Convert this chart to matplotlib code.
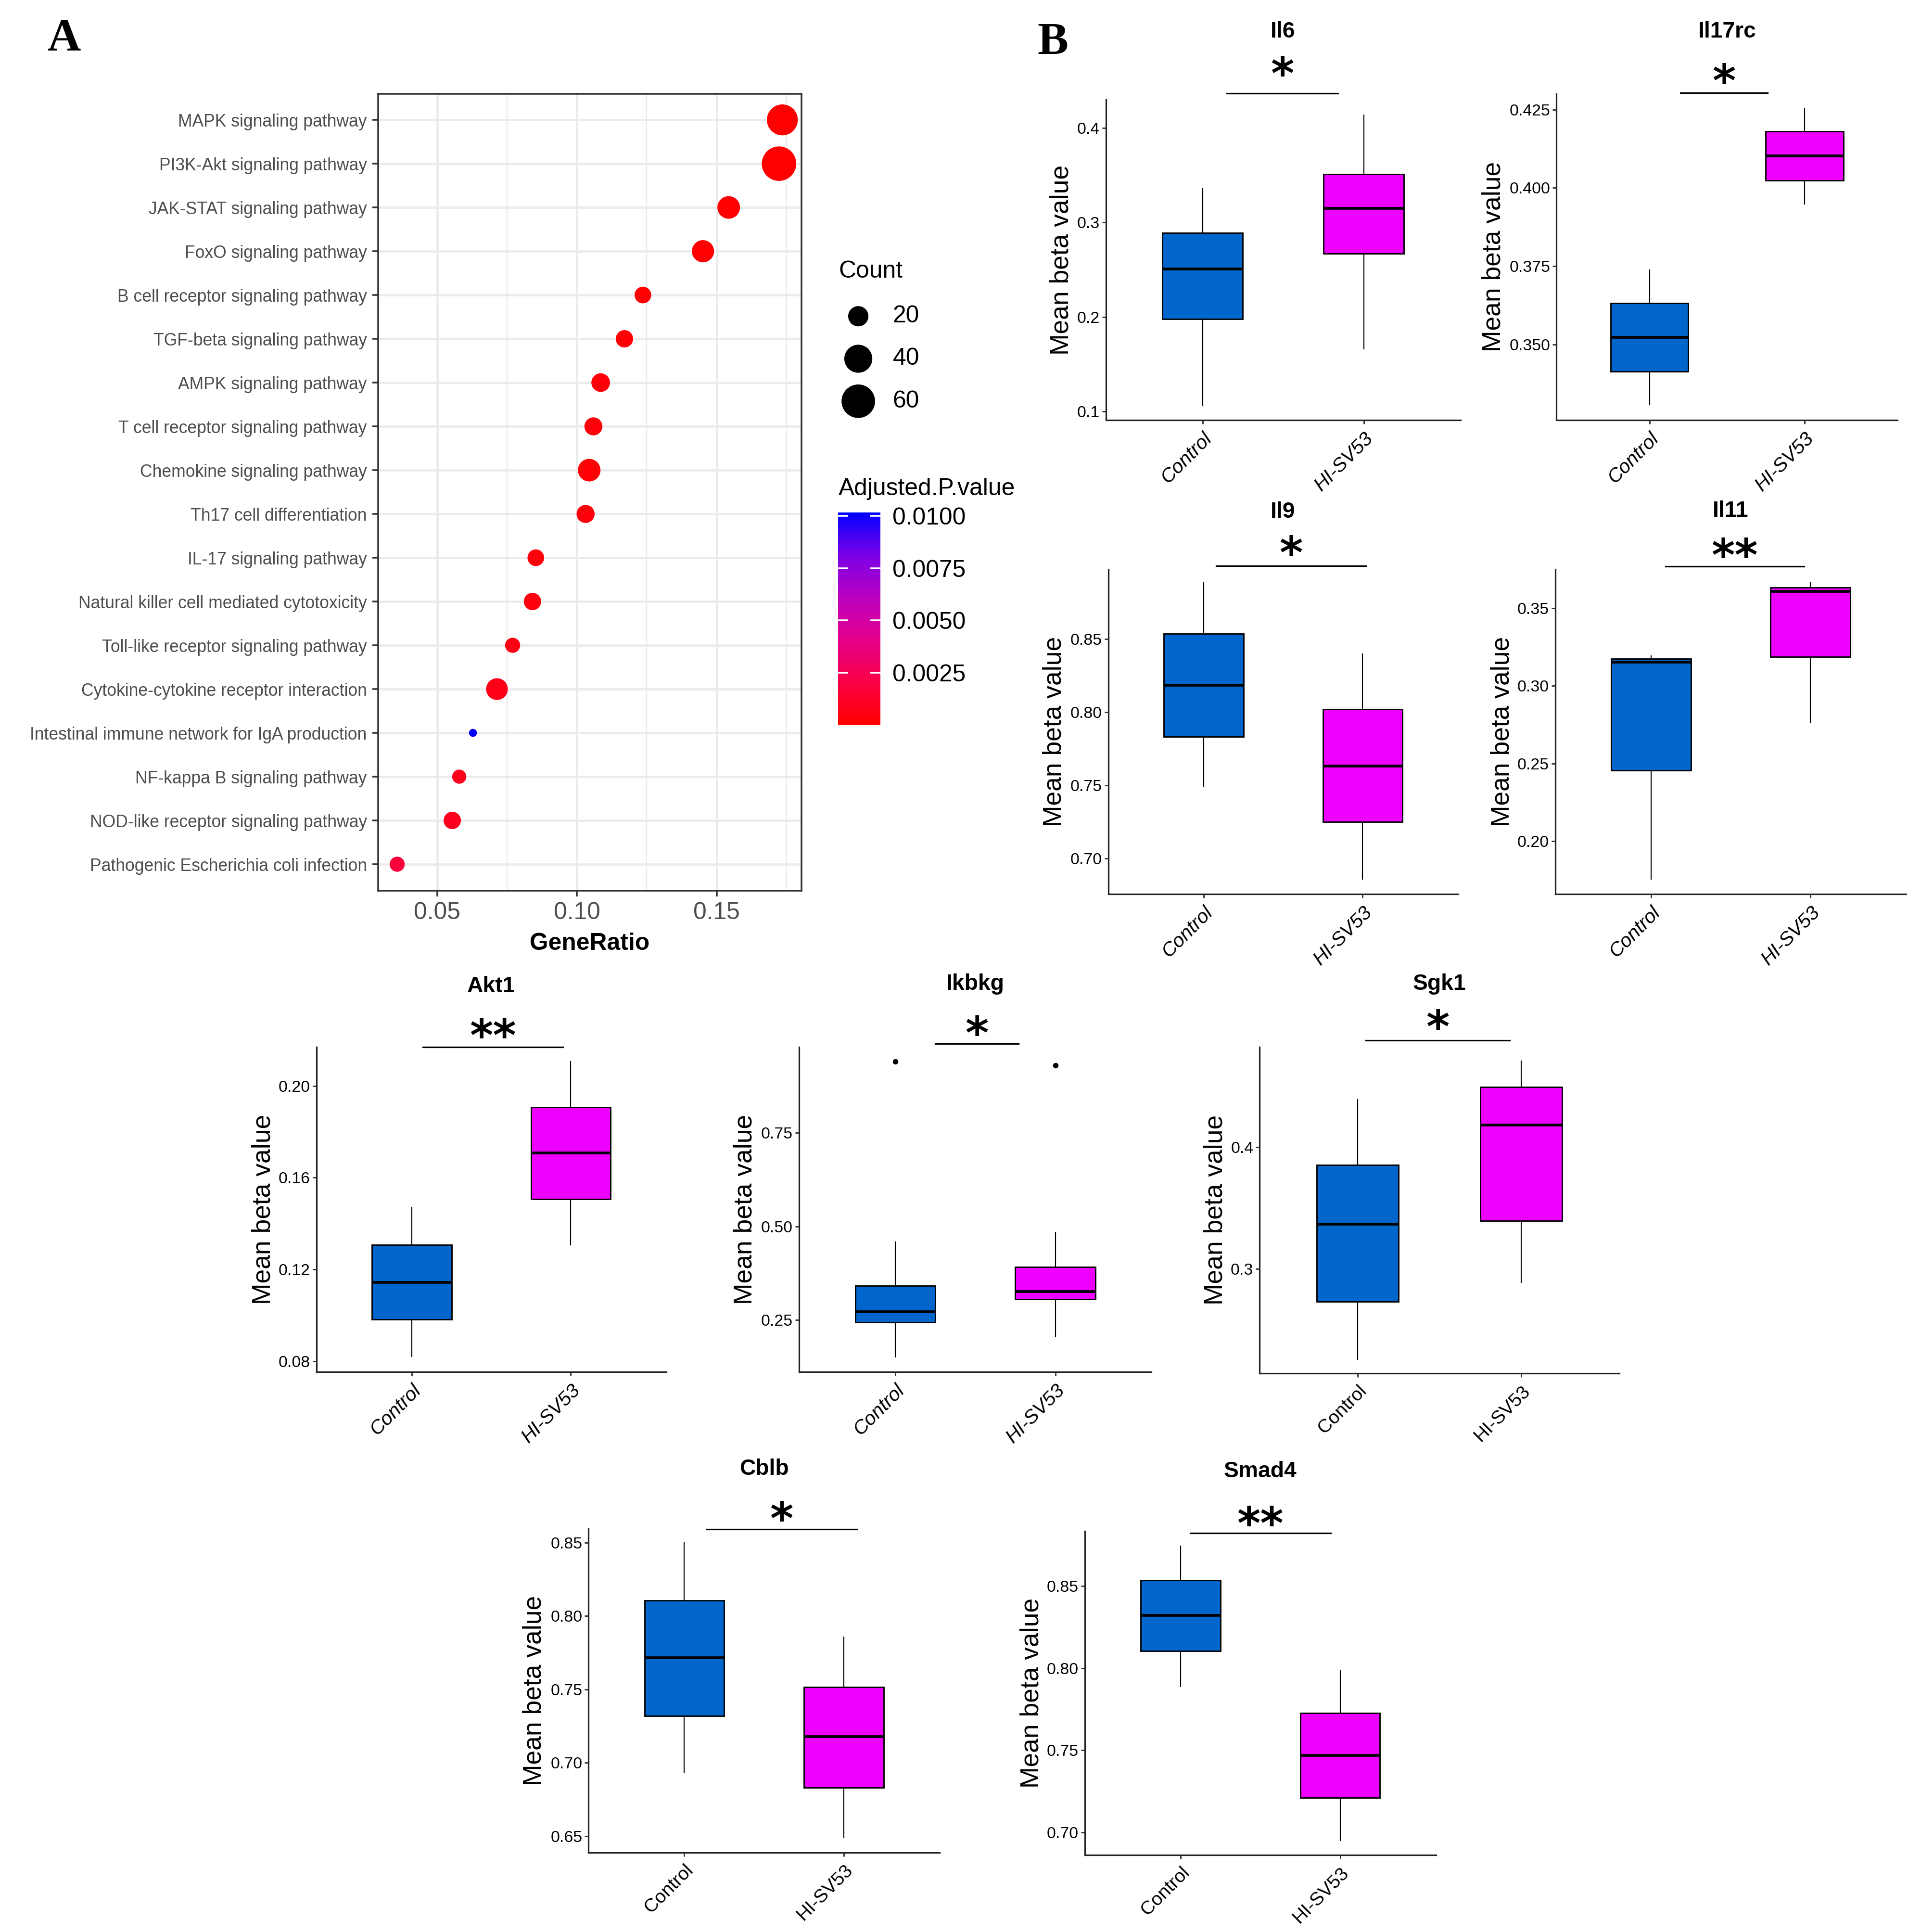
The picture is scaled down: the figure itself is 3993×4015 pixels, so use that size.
import numpy as np
import matplotlib
matplotlib.use("Agg")
import matplotlib.pyplot as plt
from matplotlib import font_manager
from matplotlib.colors import LinearSegmentedColormap, Normalize
from matplotlib.cm import ScalarMappable

# ---------------- Panel A: pathway enrichment ----------------
pathways = [
    "MAPK signaling pathway", "PI3K-Akt signaling pathway", "JAK-STAT signaling pathway",
    "FoxO signaling pathway", "B cell receptor signaling pathway", "TGF-beta signaling pathway",
    "AMPK signaling pathway", "T cell receptor signaling pathway", "Chemokine signaling pathway",
    "Th17 cell differentiation", "IL-17 signaling pathway", "Natural killer cell mediated cytotoxicity",
    "Toll-like receptor signaling pathway", "Cytokine-cytokine receptor interaction",
    "Intestinal immune network for IgA production", "NF-kappa B signaling pathway",
    "NOD-like receptor signaling pathway", "Pathogenic Escherichia coli infection",
]
gene_ratio = [0.1735, 0.1723, 0.1543, 0.1451, 0.1236, 0.1170, 0.1085, 0.1059, 0.1044,
              0.1031, 0.0853, 0.0841, 0.0770, 0.0714, 0.0628, 0.0579, 0.0554, 0.0357]
gene_count = [50, 64, 25, 24, 14, 15, 17, 16, 25, 16, 14, 15, 12, 23, 8, 11, 15, 12]
adj_pvalue = [6e-6, 2e-5, 1.5e-5, 4e-5, 1e-4, 2e-4, 3e-4, 2.5e-4, 1.5e-4,
              3e-4, 4e-4, 5e-4, 6e-4, 7e-4, 0.01016, 8e-4, 9e-4, 0.0018]
count_breaks = [20, 40, 60]
pval_breaks = [0.0025, 0.0050, 0.0075, 0.0100]

# ---------------- Panel B: mean beta value boxplots ----------------
genes = ["Il6", "Il17rc", "Il9", "Il11", "Akt1", "Ikbkg", "Sgk1", "Cblb", "Smad4"]
groups = ["Control", "HI-SV53"]
signif = ["*", "*", "*", "**", "**", "*", "*", "*", "**"]
ctrl_low = [0.106, 0.3308, 0.7494, 0.1755, 0.0820, 0.1516, 0.2258, 0.6932, 0.7889]
ctrl_q1 = [0.198, 0.3414, 0.7834, 0.2455, 0.0982, 0.2434, 0.2734, 0.7320, 0.8103]
ctrl_med = [0.251, 0.3523, 0.8186, 0.3152, 0.1143, 0.2720, 0.3370, 0.7716, 0.8320]
ctrl_q3 = [0.289, 0.3632, 0.8536, 0.3176, 0.1307, 0.3420, 0.3853, 0.8107, 0.8534]
ctrl_high = [0.336, 0.3738, 0.8888, 0.3194, 0.1470, 0.4590, 0.4390, 0.8500, 0.8743]
ctrl_out = [[], [], [], [], [], [0.941], [], [], []]
hisv_low = [0.166, 0.3949, 0.6857, 0.2762, 0.1307, 0.2050, 0.2891, 0.6490, 0.6952]
hisv_q1 = [0.267, 0.4023, 0.7251, 0.3186, 0.1506, 0.3057, 0.3397, 0.6832, 0.7211]
hisv_med = [0.315, 0.4102, 0.7633, 0.3610, 0.1707, 0.3254, 0.4180, 0.7179, 0.7469]
hisv_q3 = [0.351, 0.4180, 0.8021, 0.3634, 0.1907, 0.3910, 0.4494, 0.7517, 0.7727]
hisv_high = [0.414, 0.4254, 0.8400, 0.3664, 0.2106, 0.4836, 0.4706, 0.7857, 0.7987]
hisv_out = [[], [], [], [], [], [0.9303], [], [], []]
yticks = [
    [0.1, 0.2, 0.3, 0.4], [0.350, 0.375, 0.400, 0.425], [0.70, 0.75, 0.80, 0.85],
    [0.20, 0.25, 0.30, 0.35], [0.08, 0.12, 0.16, 0.20], [0.25, 0.50, 0.75],
    [0.3, 0.4], [0.65, 0.70, 0.75, 0.80, 0.85], [0.70, 0.75, 0.80, 0.85],
]
ytick_fmt = ["%.1f", "%.3f", "%.2f", "%.2f", "%.2f", "%.2f", "%.1f", "%.2f", "%.2f"]

# ---------------- layout (reference pixels at 1560 wide) ----------------
S = 3993 / 1560.0
W = 3993 / S
H = 4015 / S
PT = 0.72  # points per layout pixel

box_rects = [(898, 81, 1186, 341), (1264, 76, 1541, 341), (900, 462, 1184, 726),
             (1263, 462, 1548, 726), (257, 850, 541, 1114), (649, 850, 935, 1114),
             (1023, 850, 1315, 1115), (478, 1241, 763, 1504), (881, 1243, 1166, 1506)]
ylims = [(0.0909, 0.430), (0.3259, 0.4301), (0.6755, 0.898), (0.1657, 0.3753), (0.0753, 0.217),
         (0.1107, 0.9795), (0.2144, 0.4823), (0.6389, 0.8596), (0.6864, 0.8834)]
bar_y = [0.437, 0.4304, 0.900, 0.377, 0.217, 0.988, 0.4878, 0.859, 0.882]
bar_x = [(1.15, 1.84), (1.20, 1.76), (1.08, 2.02), (1.09, 1.96), (1.07, 1.95),
         (1.25, 1.77), (1.05, 1.93), (1.14, 2.08), (1.06, 1.94)]
title_gap = [57, 52, 48, 49, 51, 53, 53, 50, 50]
star_gap = [30, 19, 22, 20, 18, 20, 25, 17, 15]
ylabel_gap = [36, 51, 44, 43, 43, 44, 36, 44, 43]

names = {f.name for f in font_manager.fontManager.ttflist}
NARROW = "Liberation Sans Narrow" if "Liberation Sans Narrow" in names else "Liberation Sans"
plt.rcParams["font.family"] = ["Liberation Sans", "DejaVu Sans"]

fig = plt.figure(figsize=(3993 / 256, 4015 / 256), dpi=256)


def add_ax(l, t, r, b):
    return fig.add_axes([l / W, 1 - b / H, (r - l) / W, (b - t) / H])


# ---------------- Panel A ----------------
def count_diam(c):
    c = np.asarray(c, dtype=float)
    return (6.5 + 21.5 * np.sqrt(np.clip((c - 8) / 56.0, 0, None))) * PT


cmap = LinearSegmentedColormap.from_list(
    "rb", ["#FF0000", "#FA0045", "#E5008A", "#BB00C0", "#7A00E6", "#0000FF"])
norm = Normalize(vmin=min(adj_pvalue), vmax=max(adj_pvalue))

axA = add_ax(307, 76, 651, 723)
ypos = np.arange(len(pathways))
axA.scatter(gene_ratio, ypos, s=count_diam(gene_count) ** 2, c=adj_pvalue, cmap=cmap,
            norm=norm, edgecolors="none", zorder=3)
axA.set_xlim(0.02885, 0.1804)
axA.set_ylim(len(pathways) - 0.4, -0.6)
axA.set_yticks(ypos)
axA.set_yticklabels(pathways, fontsize=10, color="#4D4D4D")
axA.set_xticks([0.05, 0.10, 0.15])
axA.set_xticklabels(["0.05", "0.10", "0.15"], fontsize=14, color="#4D4D4D")
axA.set_xticks([0.075, 0.125, 0.175], minor=True)
axA.tick_params(axis="both", which="major", length=3.5, width=1, color="#333333", pad=3)
axA.tick_params(axis="x", which="minor", length=0)
axA.grid(True, which="major", color="#EBEBEB", lw=1.3, zorder=0)
axA.grid(True, which="minor", axis="x", color="#EBEBEB", lw=0.7, zorder=0)
axA.set_axisbelow(True)
for sp in axA.spines.values():
    sp.set_color("#333333")
    sp.set_linewidth(1.0)
axA.set_xlabel("GeneRatio", fontsize=14, fontweight="bold", va="center")
axA.xaxis.set_label_coords(0.5, -(766 - 723) / (723 - 76))

# Count legend
fig.text(681 / W, 1 - 220.5 / H, "Count", fontsize=14, ha="left", va="center")
axC = add_ax(680, 239.5, 760, 343)
axC.set_xlim(0, 1)
axC.set_ylim(3.5, 0.5)
axC.axis("off")
axC.scatter([0.2125] * len(count_breaks), np.arange(1, len(count_breaks) + 1),
            s=count_diam(count_breaks) ** 2, c="black", edgecolors="none", clip_on=False)
for i, cb in enumerate(count_breaks):
    axC.text(0.5625, i + 1, str(cb), fontsize=14, ha="left", va="center")

# p-value colorbar
fig.text(681 / W, 1 - 397 / H, "Adjusted.P.value", fontsize=14, ha="left", va="center")
axCB = add_ax(680.5, 416, 715, 588.6)
cb = fig.colorbar(ScalarMappable(norm=norm, cmap=cmap), cax=axCB)
cb.set_ticks(pval_breaks)
cb.set_ticklabels(["%.4f" % v for v in pval_breaks])
cb.outline.set_visible(False)
axCB.tick_params(axis="y", which="major", direction="in", color="white", length=6, width=1,
                 left=True, right=True, labelsize=14, pad=7)
axCB.minorticks_off()

# ---------------- Panel B ----------------
for i, g in enumerate(genes):
    l, t, r, b = box_rects[i]
    ax = add_ax(l, t, r, b)
    narrow = i < 6
    tfont = NARROW if narrow else "Liberation Sans"
    stats = [
        dict(whislo=ctrl_low[i], q1=ctrl_q1[i], med=ctrl_med[i], q3=ctrl_q3[i],
             whishi=ctrl_high[i], fliers=ctrl_out[i]),
        dict(whislo=hisv_low[i], q1=hisv_q1[i], med=hisv_med[i], q3=hisv_q3[i],
             whishi=hisv_high[i], fliers=hisv_out[i]),
    ]
    bp = ax.bxp(stats, positions=[1, 2], widths=0.5, patch_artist=True, showcaps=False,
                boxprops=dict(linewidth=0.8, edgecolor="black"),
                medianprops=dict(color="black", linewidth=1.6),
                whiskerprops=dict(color="black", linewidth=0.6),
                flierprops=dict(marker="o", markersize=2.2, markerfacecolor="black",
                                markeredgecolor="black"))
    for patch, col in zip(bp["boxes"], ["#0066CC", "#EE00FF"]):
        patch.set_facecolor(col)
    ax.set_xlim(0.4, 2.6)
    ax.set_ylim(*ylims[i])
    ax.set_yticks(yticks[i])
    ax.set_yticklabels([ytick_fmt[i] % v for v in yticks[i]], fontsize=9.5, family=tfont)
    ax.set_xticks([1, 2])
    ax.set_xticklabels(groups, rotation=45, ha="right", va="top", rotation_mode="anchor",
                       fontsize=11.5 if narrow else 11, family=tfont,
                       style="italic" if narrow else "normal")
    ax.tick_params(axis="both", length=2.2, width=0.8, color="#333333", pad=1.5)
    ax.tick_params(axis="x", pad=3)
    for side in ["top", "right"]:
        ax.spines[side].set_visible(False)
    for side in ["left", "bottom"]:
        ax.spines[side].set_color("#222222")
        ax.spines[side].set_linewidth(0.9)
    ax.set_ylabel("Mean beta value", fontsize=15, va="center")
    ax.yaxis.set_label_coords(-ylabel_gap[i] / (r - l), 0.5)
    # significance bar
    ax.plot(bar_x[i], [bar_y[i], bar_y[i]], color="black", lw=0.9, clip_on=False)
    xm = 0.5 * (bar_x[i][0] + bar_x[i][1])
    star_fs = 26
    ax.annotate(signif[i], xy=(xm, 1), xycoords=("data", "axes fraction"),
                xytext=(0, star_gap[i] * PT - 0.59 * star_fs), textcoords="offset points",
                ha="center", va="baseline", fontsize=star_fs, fontweight="bold",
                family="DejaVu Sans", annotation_clip=False)
    title_fs = 13
    ax.annotate(g, xy=(0.5, 1), xycoords="axes fraction",
                xytext=(0, title_gap[i] * PT - 0.36 * title_fs), textcoords="offset points",
                ha="center", va="baseline", fontsize=title_fs, fontweight="bold",
                family=tfont, annotation_clip=False)

# panel letters
fig.text(52 / W, 1 - 32 / H, "A", fontsize=27, fontweight="bold", family="Liberation Serif",
         ha="center", va="center")
fig.text(855 / W, 1 - 35 / H, "B", fontsize=27, fontweight="bold", family="Liberation Serif",
         ha="center", va="center")

fig.savefig("out.png", dpi=256)
